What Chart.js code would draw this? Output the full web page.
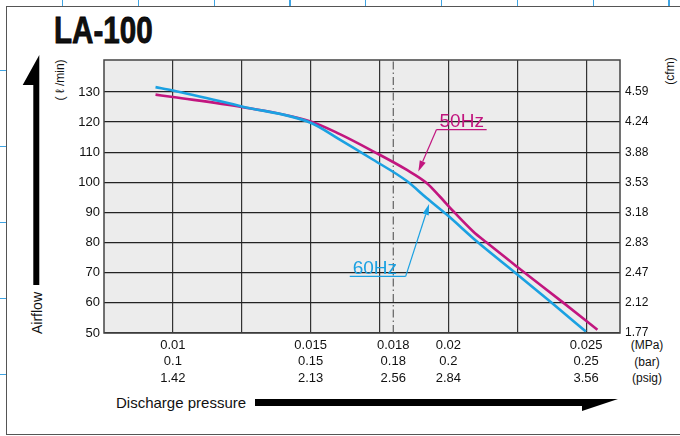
<!DOCTYPE html>
<html>
<head>
<meta charset="utf-8">
<script src="https://cdn.jsdelivr.net/npm/chart.js@4.4.1/dist/chart.umd.min.js"></script>
<style>
  html, body { margin: 0; padding: 0; background: #fff; }
  body {
    width: 680px; height: 436px; position: relative; overflow: hidden;
    font-family: "Liberation Sans", Arial, sans-serif; color: #111;
  }
  .frame {
    position: absolute; left: 6px; top: 6px; width: 720px; height: 429px;
    border: 1.5px solid #555; box-sizing: border-box;
  }
  .pagetick { position: absolute; background: #3fa4e3; }
  .title {
    position: absolute; left: 54px; top: 10px;
    font-family: "Liberation Sans", Arial, sans-serif;
    font-weight: bold; font-size: 37px;
    transform: scaleX(0.8); transform-origin: left top;
    -webkit-text-stroke: 0.8px #000;
  }
  .rot { position: absolute; white-space: nowrap; transform: translate(-50%, -50%) rotate(-90deg); }
  .txt { position: absolute; white-space: nowrap; }
  .unit { position: absolute; width: 50px; text-align: center; font-size: 12px; transform: translate(-50%, -50%); }
  #wrap { position: absolute; left: 0; top: 0; width: 680px; height: 436px; }
  svg.deco { position: absolute; left: 0; top: 0; }
</style>
</head>
<body>
<div class="frame"></div>
<div id="ticks"></div>
<div class="title">LA-100</div>

<svg class="deco" width="680" height="436">
  <polygon points="39.3,55 22.7,85 33.3,85 33.3,285 39.3,285" fill="#000"/>
  <polygon points="255,399 618,399 582,411 582,406 255,406" fill="#000"/>
</svg>

<div class="rot" style="left:37px; top:313px; font-size:14px;">Airflow</div>
<div class="rot" style="left:60px; top:80px; font-size:12px;">( ℓ /min)</div>
<div class="rot" style="left:670px; top:71px; font-size:12px;">(cfm)</div>
<div class="txt" style="left:116px; top:394px; font-size:15px;">Discharge pressure</div>
<div class="unit" style="left:647px; top:345px;">(MPa)</div>
<div class="unit" style="left:647px; top:362px;">(bar)</div>
<div class="unit" style="left:647px; top:378px;">(psig)</div>

<div id="wrap"><canvas id="chart"></canvas></div>

<script>
// tick labels
const mpaTicks   = [0.01, 0.015, 0.018, 0.02, 0.025];
const barLabels  = ['0.1', '0.15', '0.18', '0.2', '0.25'];
const psigLabels = ['1.42', '2.13', '2.56', '2.84', '3.56'];
const gridTicks  = [0.01, 0.0125, 0.015, 0.0175, 0.018, 0.02, 0.0225, 0.025];
const flowTicks  = [50, 60, 70, 80, 90, 100, 110, 120, 130];
const cfmLabels  = ['1.77', '2.12', '2.47', '2.83', '3.18', '3.53', '3.88', '4.24', '4.59'];

// 60Hz curve (MPa, l/min)
const press60 = [0.00937, 0.01, 0.0125, 0.015, 0.01606, 0.01727, 0.01848, 0.01921, 0.01994, 0.02108, 0.02248, 0.02375, 0.02499];
const flow60  = [131.6, 130.5, 125.2, 119.8, 114.2, 107.5, 100.5, 94.8, 89.3, 80.0, 69.6, 60.0, 50.5];

// 50Hz curve (MPa, l/min)
const press50 = [0.00937, 0.01, 0.0125, 0.015, 0.01606, 0.01727, 0.01848, 0.01921, 0.01969, 0.02018, 0.0209, 0.02139, 0.02248, 0.02418, 0.02541];
const flow50  = [129.1, 128.3, 125.0, 120.2, 116.0, 110.3, 104.2, 99.8, 95.3, 90.4, 83.7, 80.0, 72.1, 60.0, 51.1];

const refPressure = 0.018;
const X_MIN = 0.0075, X_MAX = 0.02623;
const Y_MIN = 50, Y_MAX = 140.6;

const MAGENTA = '#c2167f';
const CYAN    = '#1ba1e2';

// label, underline (x0..x1 at y), arrow tip
const NOTES = [
  { text: '50Hz', color: MAGENTA, x0: 0.01957, x1: 0.02139, y: 117.5, tipX: 0.01891, tipY: 103.6, from: 'left' },
  { text: '60Hz', color: CYAN,    x0: 0.01642, x1: 0.01845, y: 68.8,  tipX: 0.01930, tipY: 92.8,  from: 'right' },
];

// page edge marks (decoration)
(function () {
  const box = document.getElementById('ticks');
  for (let x = 62; x < 680; x += 75.8) {
    const d = document.createElement('div');
    d.className = 'pagetick';
    d.style.cssText = `left:${x}px;top:0;width:1.2px;height:6px;`;
    box.appendChild(d);
  }
  for (let y = 70; y < 436; y += 75.9) {
    const d = document.createElement('div');
    d.className = 'pagetick';
    d.style.cssText = `left:0;top:${y}px;width:6px;height:1.2px;`;
    box.appendChild(d);
  }
})();

const toPoints = (xs, ys) => xs.map((x, i) => ({ x, y: ys[i] }));

const plotFrame = {
  id: 'plotFrame',
  beforeDraw(chart) {
    const { ctx, chartArea: a } = chart;
    ctx.save();
    ctx.fillStyle = '#ececec';
    ctx.fillRect(a.left, a.top, a.right - a.left, a.bottom - a.top);
    ctx.restore();
  },
  afterDraw(chart) {
    const { ctx, chartArea: a } = chart;
    ctx.save();
    ctx.strokeStyle = '#444';
    ctx.lineWidth = 1.5;
    ctx.strokeRect(a.left, a.top, a.right - a.left, a.bottom - a.top);
    ctx.restore();
  },
};

const notes = {
  id: 'notes',
  afterDatasetsDraw(chart) {
    const { ctx, scales: { x, y } } = chart;
    ctx.save();
    NOTES.forEach((n) => {
      const x0 = x.getPixelForValue(n.x0);
      const x1 = x.getPixelForValue(n.x1);
      const ly = y.getPixelForValue(n.y);
      const tx = x.getPixelForValue(n.tipX);
      const ty = y.getPixelForValue(n.tipY);
      const sx = n.from === 'left' ? x0 : x1;

      ctx.fillStyle = n.color;
      ctx.strokeStyle = n.color;
      ctx.font = '19px "Liberation Sans", Arial, sans-serif';
      ctx.textBaseline = 'alphabetic';
      ctx.fillText(n.text, x0 + 3, ly - 2.5);

      ctx.lineWidth = 1.2;
      ctx.beginPath();
      ctx.moveTo(x1, ly);
      ctx.lineTo(x0, ly);
      ctx.stroke();

      const ang = Math.atan2(ty - ly, tx - sx);
      const len = 11, half = 3.2;
      const bx = tx - Math.cos(ang) * len;
      const by = ty - Math.sin(ang) * len;
      ctx.beginPath();
      ctx.moveTo(sx, ly);
      ctx.lineTo(bx, by);
      ctx.stroke();

      ctx.beginPath();
      ctx.moveTo(tx, ty);
      ctx.lineTo(bx - Math.sin(ang) * half, by + Math.cos(ang) * half);
      ctx.lineTo(bx + Math.sin(ang) * half, by - Math.cos(ang) * half);
      ctx.closePath();
      ctx.fill();
    });
    ctx.restore();
  },
};

Chart.defaults.font.family = '"Liberation Sans", Arial, sans-serif';
Chart.defaults.color = '#111';

new Chart(document.getElementById('chart'), {
  type: 'line',
  data: {
    datasets: [
      {
        label: '60Hz',
        data: toPoints(press60, flow60),
        borderColor: CYAN,
        borderWidth: 2.6,
        pointRadius: 0,
        cubicInterpolationMode: 'monotone',
      },
      {
        label: '50Hz',
        data: toPoints(press50, flow50),
        borderColor: MAGENTA,
        borderWidth: 2.6,
        pointRadius: 0,
        cubicInterpolationMode: 'monotone',
      },
      {
        label: 'ref',
        data: [{ x: refPressure, y: Y_MIN }, { x: refPressure, y: Y_MAX }],
        borderColor: '#555',
        borderWidth: 1.1,
        borderDash: [8, 3, 1.5, 3],
        pointRadius: 0,
      },
    ],
  },
  options: {
    responsive: true,
    maintainAspectRatio: false,
    animation: false,
    layout: { padding: { top: 60, left: 0, right: 0, bottom: 0 } },
    plugins: { legend: { display: false }, tooltip: { enabled: false } },
    scales: {
      x: {
        type: 'linear',
        min: X_MIN,
        max: X_MAX,
        afterBuildTicks: (s) => { s.ticks = gridTicks.map((v) => ({ value: v })); },
        afterFit: (s) => { s.height = 103; },
        ticks: {
          autoSkip: false,
          maxRotation: 0,
          padding: 4,
          font: { size: 13, lineHeight: 1.27 },
          callback: (v) => {
            const i = mpaTicks.indexOf(v);
            return i < 0 ? '' : [String(v), barLabels[i], psigLabels[i]];
          },
        },
        grid: {
          drawTicks: false,
          color: (c) => (c.tick && c.tick.value === refPressure ? 'rgba(0,0,0,0)' : '#333'),
          lineWidth: 1.2,
        },
        border: { display: false },
      },
      y: {
        position: 'left',
        min: Y_MIN,
        max: Y_MAX,
        afterBuildTicks: (s) => { s.ticks = flowTicks.map((v) => ({ value: v })); },
        afterFit: (s) => { s.width = 104; },
        ticks: { padding: 4, font: { size: 13 } },
        grid: { drawTicks: false, color: '#222', lineWidth: 1.2 },
        border: { display: false },
      },
      y2: {
        position: 'right',
        min: Y_MIN,
        max: Y_MAX,
        afterBuildTicks: (s) => { s.ticks = flowTicks.map((v) => ({ value: v })); },
        afterFit: (s) => { s.width = 60; },
        ticks: {
          padding: 5,
          font: { size: 12 },
          callback: (v) => cfmLabels[flowTicks.indexOf(v)],
        },
        grid: { drawOnChartArea: false, drawTicks: false },
        border: { display: false },
      },
    },
  },
  plugins: [plotFrame, notes],
});
</script>
</body>
</html>
